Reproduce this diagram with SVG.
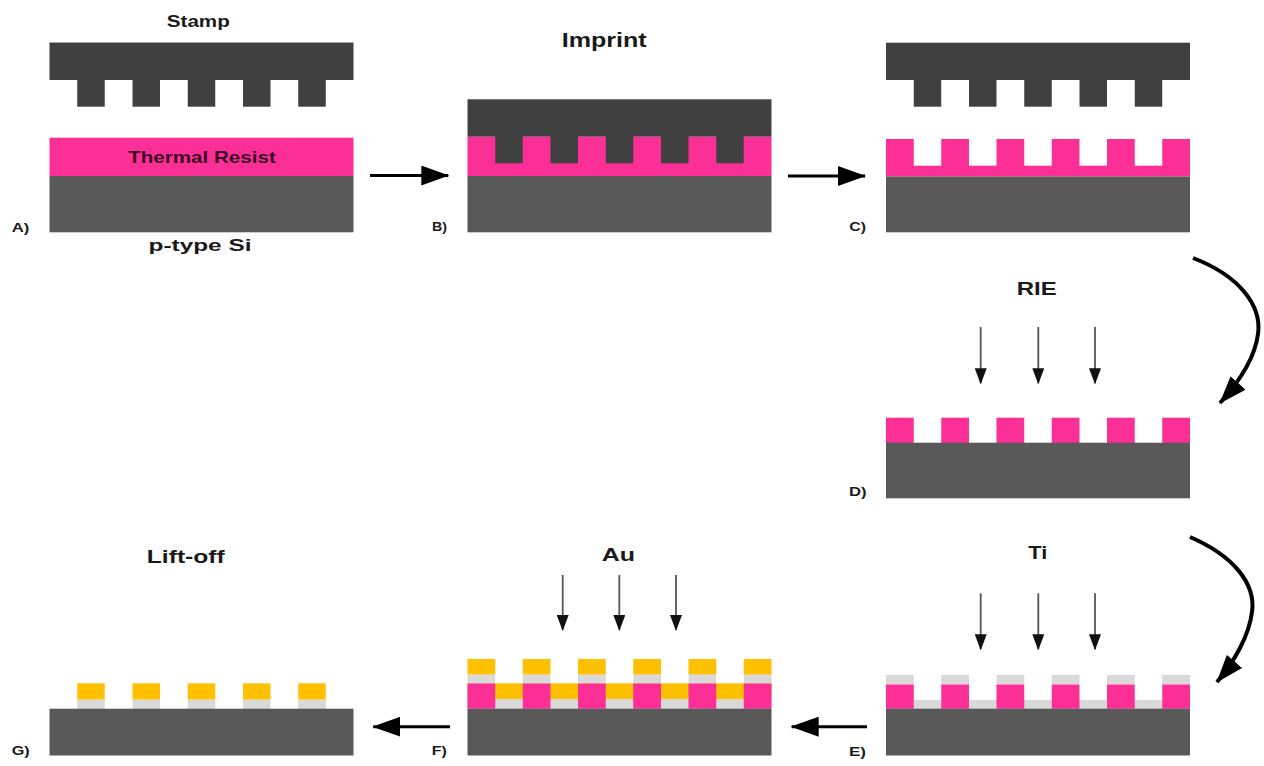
<svg xmlns="http://www.w3.org/2000/svg" width="1264" height="766" viewBox="0 0 1264 766">
  <style>
    .stamp { fill: #404040; }
    .si { fill: #595959; }
    .resist { fill: #fc2f96; }
    .au { fill: #ffc000; }
    .ti { fill: #d9d9d9; }
    .title { font-family: "Liberation Sans", Arial, sans-serif; font-weight: bold; fill: #1a1a1a; text-anchor: middle; }
    .tag { font-family: "Liberation Sans", Arial, sans-serif; font-weight: bold; font-size: 12.5px; fill: #1a1a1a; }
    .flow { fill: none; stroke: #000; stroke-width: 3; marker-end: url(#bigHead); }
    .curve { fill: none; stroke: #000; stroke-width: 4; marker-end: url(#bigHead); }
    .beam { stroke: #555; stroke-width: 1.8; marker-end: url(#smallHead); }
  </style>
  <defs>
    <marker id="bigHead" markerUnits="userSpaceOnUse" markerWidth="28" markerHeight="20" refX="27" refY="10" orient="auto">
      <path d="M0,0 L28,10 L0,20 Z" fill="#000"/>
    </marker>
    <marker id="smallHead" markerUnits="userSpaceOnUse" markerWidth="16" markerHeight="12" refX="15" refY="6" orient="auto">
      <path d="M0,0 L16,6 L0,12 Z" fill="#111"/>
    </marker>
  </defs>
  <rect width="1264" height="766" fill="#fff"/>

  <!-- A) stamp above resist-coated silicon -->
  <g id="stepA">
    <rect class="stamp" x="49.5" y="42.5" width="304" height="37.5"/>
    <rect class="stamp" x="77.25" y="79" width="27.5" height="27.7"/>
    <rect class="stamp" x="132.5" y="79" width="27.5" height="27.7"/>
    <rect class="stamp" x="187.75" y="79" width="27.5" height="27.7"/>
    <rect class="stamp" x="243" y="79" width="27.5" height="27.7"/>
    <rect class="stamp" x="298.25" y="79" width="27.5" height="27.7"/>
    <rect class="resist" x="49.5" y="137.7" width="304" height="38.3"/>
    <rect class="si" x="49.5" y="176" width="304" height="56.3"/>
    <text class="title" x="198.3" y="27.3" font-size="16" textLength="63" lengthAdjust="spacingAndGlyphs">Stamp</text>
    <text class="title" x="202" y="162.7" font-size="17" textLength="147.7" lengthAdjust="spacingAndGlyphs" style="fill:#3a0b22">Thermal Resist</text>
    <text class="title" x="200" y="250.7" font-size="16.5" textLength="103" lengthAdjust="spacingAndGlyphs">p-type Si</text>
    <text class="tag" x="11.7" y="232.3" textLength="17.6" lengthAdjust="spacingAndGlyphs">A)</text>
  </g>

  <!-- B) stamp pressed into the resist -->
  <g id="stepB">
    <rect class="si" x="467.5" y="176" width="304" height="56.3"/>
    <rect class="resist" x="467.5" y="136.7" width="304" height="39.3"/>
    <rect class="stamp" x="467.5" y="99.3" width="304" height="37.4"/>
    <rect class="stamp" x="495.25" y="136" width="27.5" height="27.3"/>
    <rect class="stamp" x="550.5" y="136" width="27.5" height="27.3"/>
    <rect class="stamp" x="605.75" y="136" width="27.5" height="27.3"/>
    <rect class="stamp" x="661" y="136" width="27.5" height="27.3"/>
    <rect class="stamp" x="716.25" y="136" width="27.5" height="27.3"/>
    <text class="title" x="604.2" y="47.3" font-size="21" textLength="85" lengthAdjust="spacingAndGlyphs">Imprint</text>
    <text class="tag" x="432" y="231" textLength="15" lengthAdjust="spacingAndGlyphs">B)</text>
  </g>

  <!-- C) stamp released, patterned resist -->
  <g id="stepC">
    <rect class="stamp" x="886" y="42.7" width="304" height="37.3"/>
    <rect class="stamp" x="913.75" y="79" width="27.5" height="27.7"/>
    <rect class="stamp" x="969" y="79" width="27.5" height="27.7"/>
    <rect class="stamp" x="1024.25" y="79" width="27.5" height="27.7"/>
    <rect class="stamp" x="1079.5" y="79" width="27.5" height="27.7"/>
    <rect class="stamp" x="1134.75" y="79" width="27.5" height="27.7"/>
    <rect class="resist" x="886" y="165.7" width="304" height="10.8"/>
    <rect class="resist" x="886" y="139" width="27.75" height="27"/>
    <rect class="resist" x="941.25" y="139" width="27.75" height="27"/>
    <rect class="resist" x="996.5" y="139" width="27.75" height="27"/>
    <rect class="resist" x="1051.75" y="139" width="27.75" height="27"/>
    <rect class="resist" x="1107" y="139" width="27.75" height="27"/>
    <rect class="resist" x="1162.25" y="139" width="27.75" height="27"/>
    <rect class="si" x="886" y="176.5" width="304" height="55.8"/>
    <text class="tag" x="849.3" y="230.7" textLength="16.7" lengthAdjust="spacingAndGlyphs">C)</text>
  </g>

  <!-- D) residual layer removed by RIE -->
  <g id="stepD">
    <rect class="resist" x="886" y="417.7" width="27.75" height="25.5"/>
    <rect class="resist" x="941.25" y="417.7" width="27.75" height="25.5"/>
    <rect class="resist" x="996.5" y="417.7" width="27.75" height="25.5"/>
    <rect class="resist" x="1051.75" y="417.7" width="27.75" height="25.5"/>
    <rect class="resist" x="1107" y="417.7" width="27.75" height="25.5"/>
    <rect class="resist" x="1162.25" y="417.7" width="27.75" height="25.5"/>
    <rect class="si" x="886" y="442.7" width="304" height="55.6"/>
    <text class="title" x="1036.7" y="295" font-size="18" textLength="40" lengthAdjust="spacingAndGlyphs">RIE</text>
    <text class="tag" x="849" y="496" textLength="17.6" lengthAdjust="spacingAndGlyphs">D)</text>
  </g>

  <!-- E) Ti adhesion layer deposited -->
  <g id="stepE">
    <rect class="ti" x="886" y="700" width="304" height="9.2"/>
    <rect class="resist" x="886" y="684.3" width="27.75" height="24.4"/>
    <rect class="resist" x="941.25" y="684.3" width="27.75" height="24.4"/>
    <rect class="resist" x="996.5" y="684.3" width="27.75" height="24.4"/>
    <rect class="resist" x="1051.75" y="684.3" width="27.75" height="24.4"/>
    <rect class="resist" x="1107" y="684.3" width="27.75" height="24.4"/>
    <rect class="resist" x="1162.25" y="684.3" width="27.75" height="24.4"/>
    <rect class="ti" x="886" y="675" width="27.75" height="9.3"/>
    <rect class="ti" x="941.25" y="675" width="27.75" height="9.3"/>
    <rect class="ti" x="996.5" y="675" width="27.75" height="9.3"/>
    <rect class="ti" x="1051.75" y="675" width="27.75" height="9.3"/>
    <rect class="ti" x="1107" y="675" width="27.75" height="9.3"/>
    <rect class="ti" x="1162.25" y="675" width="27.75" height="9.3"/>
    <rect class="si" x="886" y="708.7" width="304" height="46.8"/>
    <text class="title" x="1037.8" y="559.3" font-size="17.5" textLength="19" lengthAdjust="spacingAndGlyphs">Ti</text>
    <text class="tag" x="849" y="756" textLength="17" lengthAdjust="spacingAndGlyphs">E)</text>
  </g>

  <!-- F) Au layer deposited -->
  <g id="stepF">
    <rect class="ti" x="467.5" y="699" width="304" height="10"/>
    <rect class="au" x="467.5" y="683.3" width="304" height="15.7"/>
    <rect class="resist" x="467.5" y="683.3" width="27.75" height="25.4"/>
    <rect class="resist" x="522.75" y="683.3" width="27.75" height="25.4"/>
    <rect class="resist" x="578" y="683.3" width="27.75" height="25.4"/>
    <rect class="resist" x="633.25" y="683.3" width="27.75" height="25.4"/>
    <rect class="resist" x="688.5" y="683.3" width="27.75" height="25.4"/>
    <rect class="resist" x="743.75" y="683.3" width="27.75" height="25.4"/>
    <rect class="ti" x="467.5" y="674.5" width="27.75" height="8.8"/>
    <rect class="ti" x="522.75" y="674.5" width="27.75" height="8.8"/>
    <rect class="ti" x="578" y="674.5" width="27.75" height="8.8"/>
    <rect class="ti" x="633.25" y="674.5" width="27.75" height="8.8"/>
    <rect class="ti" x="688.5" y="674.5" width="27.75" height="8.8"/>
    <rect class="ti" x="743.75" y="674.5" width="27.75" height="8.8"/>
    <rect class="au" x="467.5" y="659" width="27.75" height="15.5"/>
    <rect class="au" x="522.75" y="659" width="27.75" height="15.5"/>
    <rect class="au" x="578" y="659" width="27.75" height="15.5"/>
    <rect class="au" x="633.25" y="659" width="27.75" height="15.5"/>
    <rect class="au" x="688.5" y="659" width="27.75" height="15.5"/>
    <rect class="au" x="743.75" y="659" width="27.75" height="15.5"/>
    <rect class="si" x="467.5" y="708.7" width="304" height="46.8"/>
    <text class="title" x="618.3" y="561" font-size="17.5" textLength="33.3" lengthAdjust="spacingAndGlyphs">Au</text>
    <text class="tag" x="431.7" y="755" textLength="15" lengthAdjust="spacingAndGlyphs">F)</text>
  </g>

  <!-- G) Ti/Au lines left after lift-off -->
  <g id="stepG">
    <rect class="ti" x="77.25" y="699.5" width="27.5" height="9.5"/>
    <rect class="ti" x="132.5" y="699.5" width="27.5" height="9.5"/>
    <rect class="ti" x="187.75" y="699.5" width="27.5" height="9.5"/>
    <rect class="ti" x="243" y="699.5" width="27.5" height="9.5"/>
    <rect class="ti" x="298.25" y="699.5" width="27.5" height="9.5"/>
    <rect class="au" x="77.25" y="683.3" width="27.5" height="16.2"/>
    <rect class="au" x="132.5" y="683.3" width="27.5" height="16.2"/>
    <rect class="au" x="187.75" y="683.3" width="27.5" height="16.2"/>
    <rect class="au" x="243" y="683.3" width="27.5" height="16.2"/>
    <rect class="au" x="298.25" y="683.3" width="27.5" height="16.2"/>
    <rect class="si" x="49.5" y="708.7" width="304" height="46.8"/>
    <text class="title" x="185.8" y="563" font-size="18" textLength="78" lengthAdjust="spacingAndGlyphs">Lift-off</text>
    <text class="tag" x="11.7" y="755" textLength="18" lengthAdjust="spacingAndGlyphs">G)</text>
  </g>

  <!-- process-step connectors and deposition beams -->
  <g id="connectors">
    <line class="flow" x1="370" y1="175.5" x2="448.3" y2="175.5"/>
    <line class="flow" x1="788" y1="176" x2="865" y2="176"/>
    <path class="curve" d="M1193,258 C1240,276 1262,306 1258,334 C1255,358 1238,383 1220,403"/>
    <path class="curve" d="M1190,537 C1234,556 1256,584 1252,612 C1249,636 1234,662 1217,682"/>
    <line class="flow" x1="867" y1="726.7" x2="791.7" y2="726.7"/>
    <line class="flow" x1="450" y1="726.7" x2="373.3" y2="726.7"/>

    <line class="beam" x1="980.7" y1="327" x2="980.7" y2="383.3"/>
    <line class="beam" x1="1038.3" y1="327" x2="1038.3" y2="383.3"/>
    <line class="beam" x1="1095" y1="327" x2="1095" y2="383.3"/>

    <line class="beam" x1="980.7" y1="593.3" x2="980.7" y2="649.3"/>
    <line class="beam" x1="1038.3" y1="593.3" x2="1038.3" y2="649.3"/>
    <line class="beam" x1="1095" y1="593.3" x2="1095" y2="649.3"/>

    <line class="beam" x1="562.7" y1="575" x2="562.7" y2="630"/>
    <line class="beam" x1="619.3" y1="575" x2="619.3" y2="630"/>
    <line class="beam" x1="676" y1="575" x2="676" y2="630"/>
  </g>
</svg>
